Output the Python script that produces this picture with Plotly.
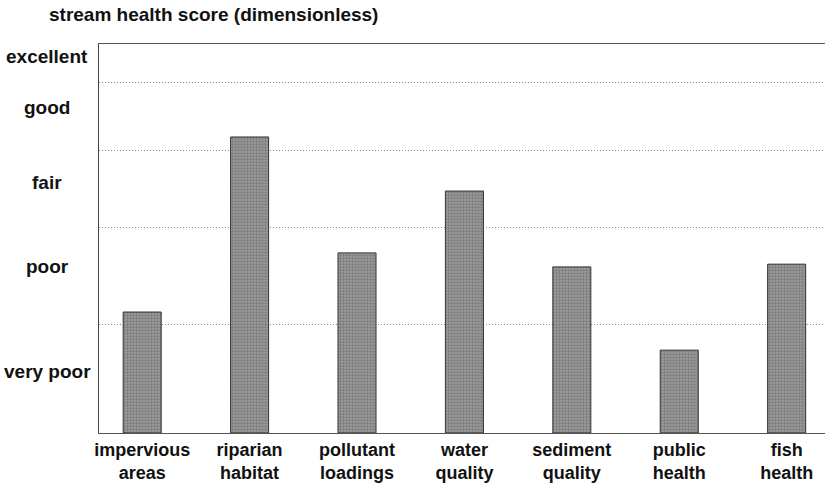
import plotly.graph_objects as go

categories = ["impervious<br>areas", "riparian<br>habitat", "pollutant<br>loadings",
              "water<br>quality", "sediment<br>quality", "public<br>health", "fish<br>health"]
scores = [31.1, 76.1, 46.3, 62.2, 42.7, 21.3, 43.4]
band_labels = ["very poor", "poor", "fair", "good", "excellent"]
band_label_pos = [15.7, 42.9, 64.5, 83.8, 96.7]
band_bounds = [28.0, 52.9, 72.75, 90.1]

FONT = "Liberation Sans, Arial, sans-serif"

fig = go.Figure()
fig.add_trace(go.Bar(
    x=list(range(len(categories))), y=scores, width=0.354,
    marker=dict(color="#8a8a8a",
                line=dict(color="#333333", width=1),
                pattern=dict(shape=".", fgcolor="#555555", bgcolor="#9c9c9c",
                             size=3, solidity=0.45)),
    showlegend=False, hoverinfo="skip"))

annotations = []
for lab, pos in zip(band_labels, band_label_pos):
    annotations.append(dict(text=lab, xref="paper", yref="y", x=-0.0716, y=pos,
                            xanchor="center", yanchor="middle", showarrow=False,
                            font=dict(family=FONT, size=19, color="#111", weight="bold")))
annotations.append(dict(text="stream health score (dimensionless)", xref="paper", yref="paper",
                        x=-0.0716, y=1.0746, xanchor="left", yanchor="middle", showarrow=False,
                        font=dict(family=FONT, size=19, color="#111", weight="bold")))

fig.update_layout(
    width=825, height=484, autosize=False,
    margin=dict(l=99, r=0, t=44, b=51, autoexpand=False),
    plot_bgcolor="white", paper_bgcolor="white",
    annotations=annotations,
    xaxis=dict(range=[-0.402, 6.357], tickvals=list(range(len(categories))), ticktext=categories,
               showline=True, linecolor="#555555", linewidth=1, mirror=True,
               showgrid=False, ticks="", zeroline=False, automargin=False,
               tickfont=dict(family=FONT, size=18, color="#111", weight="bold")),
    yaxis=dict(range=[0, 100], tickvals=band_bounds, showticklabels=False,
               showline=True, linecolor="#444444", linewidth=1,
               showgrid=True, gridcolor="#8a8a8a", griddash="1px,2px", gridwidth=1,
               ticks="", zeroline=False, automargin=False),
)

post = ("document.body.style.margin='0';document.body.style.overflow='hidden';"
        "var gd=document.getElementById('{plot_id}');"
        "Plotly.relayout(gd,{width:825,height:484});")

fig.write_html("out.html", config={"responsive": False, "displayModeBar": False}, post_script=post)
